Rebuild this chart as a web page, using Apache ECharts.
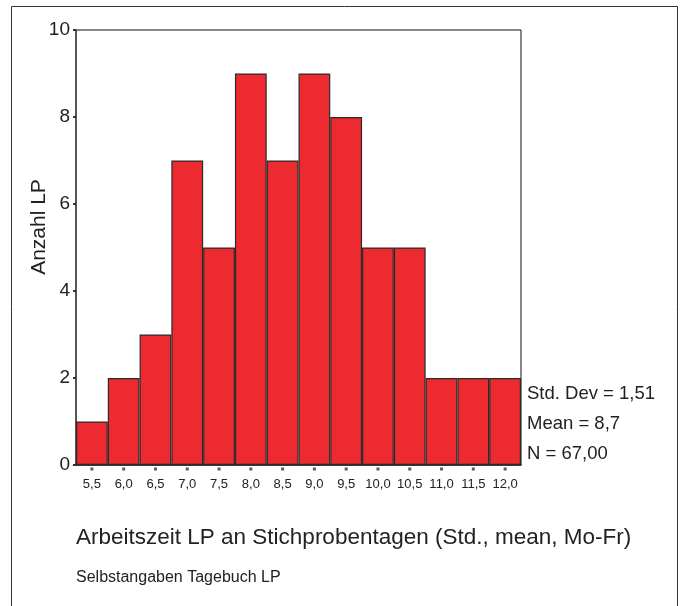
<!DOCTYPE html>
<html><head><meta charset="utf-8">
<script src="https://cdn.jsdelivr.net/npm/echarts@6/dist/echarts.min.js"></script>
<style>html,body{margin:0;padding:0;background:#fff}#c{width:683px;height:606px}</style>
</head><body><div id="c"></div>
<script>
const categories = ['5,5','6,0','6,5','7,0','7,5','8,0','8,5','9,0','9,5','10,0','10,5','11,0','11,5','12,0'];
const counts = [1,2,3,7,5,9,7,9,8,5,5,2,2,2];
const yTicks = [0,2,4,6,8,10];
const statsLines = ['Std. Dev = 1,51','Mean = 8,7','N = 67,00'];
const xTitle = 'Arbeitszeit LP an Stichprobentagen (Std., mean, Mo-Fr)';
const subTitle = 'Selbstangaben Tagebuch LP';
const yTitle = 'Anzahl LP';

const chart = echarts.init(document.getElementById('c'), null, {renderer:'canvas'});
const FF = 'Liberation Sans, Arial, sans-serif';
chart.setOption({
  animation:false,
  grid:{left:76,top:30,width:445,height:435,show:true,borderColor:'#111',borderWidth:1,backgroundColor:'transparent'},
  xAxis:{type:'category',data:categories,boundaryGap:true,
    axisLine:{show:true,lineStyle:{color:'#222',width:1.5}},
    axisTick:{show:false},
    axisLabel:{color:'#222',fontSize:13,fontFamily:FF,margin:13,interval:0}},
  yAxis:{type:'value',min:yTicks[0],max:yTicks[yTicks.length-1],interval:2,
    axisLine:{show:true,lineStyle:{color:'#555',width:2}},
    axisTick:{show:true,length:3,lineStyle:{color:'#333',width:2}},
    axisLabel:{color:'#222',fontSize:19,fontFamily:FF,margin:6,verticalAlign:'middle',padding:[4,0,0,0]},
    splitLine:{show:false}},
  series:[{type:'bar',data:counts,barWidth:'100%',barCategoryGap:0,
    itemStyle:{color:'#ED2A30',borderColor:'#2a2a2a',borderWidth:1.2}},
   {type:'scatter',data:counts.map((v,i)=>[i,0]),symbol:'rect',symbolSize:[3,3],symbolOffset:[0,4],
    itemStyle:{color:'#333'},silent:true,z:5}],
  graphic:[
    {type:'rect',shape:{x:11.5,y:6.5,width:666,height:620},style:{fill:'none',stroke:'#333',lineWidth:1},silent:true},
    {type:'text',x:39,y:227,rotation:Math.PI/2,style:{text:yTitle,fill:'#222',font:'21px '+FF,textAlign:'center',textVerticalAlign:'middle'}},
    {type:'text',x:527,y:394,style:{text:statsLines[0],fill:'#222',font:'18.5px '+FF,textVerticalAlign:'middle'}},
    {type:'text',x:527,y:424,style:{text:statsLines[1],fill:'#222',font:'18.5px '+FF,textVerticalAlign:'middle'}},
    {type:'text',x:527,y:454,style:{text:statsLines[2],fill:'#222',font:'18.5px '+FF,textVerticalAlign:'middle'}},
    {type:'text',x:76,y:538,style:{text:xTitle,fill:'#222',font:'22.5px '+FF,textVerticalAlign:'middle'}},
    {type:'text',x:76,y:578,style:{text:subTitle,fill:'#222',font:'16px '+FF,textVerticalAlign:'middle'}}
  ]
});
</script></body></html>
